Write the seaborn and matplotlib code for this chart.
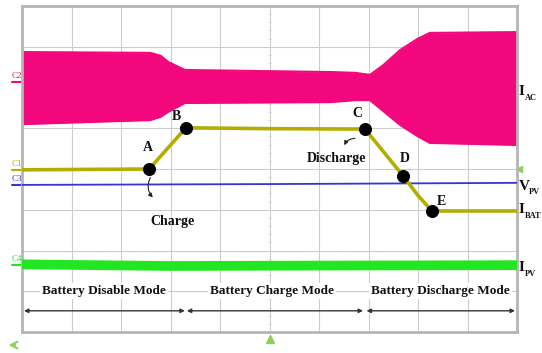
import numpy as np
import pandas as pd
import matplotlib.pyplot as plt
import matplotlib.transforms as mtrans
import seaborn as sns

# ── Scope traces, in screen divisions (x: 0-10, y: 0-8 from the bottom)
iac_x = [0, 2.59, 2.80, 2.95, 3.29, 6.22, 6.73, 7.03, 7.30, 7.64, 8.00, 8.24, 10]
iac_top = [6.87, 6.85, 6.78, 6.63, 6.43, 6.38, 6.36, 6.31, 6.55, 6.92, 7.20, 7.34, 7.36]
iac_bot = [5.10, 5.20, 5.28, 5.40, 5.62, 5.64, 5.69, 5.69, 5.42, 5.08, 4.80, 4.64, 4.59]

ibat_x = [0, 2.57, 3.31, 5.0, 6.93, 7.70, 8.00, 8.28, 10]
ibat_y = [3.98, 4.00, 5.01, 4.99, 4.98, 3.83, 3.35, 2.97, 2.97]

vpv_x = [0, 5, 10]
vpv_y = [3.61, 3.63, 3.66]

ipv_x = [0, 3, 6, 10]
ipv_y = [1.66, 1.62, 1.63, 1.64]

pts_name = ["A", "B", "C", "D", "E"]
pts_x = [2.57, 3.31, 6.93, 7.70, 8.28]
pts_y = [4.00, 5.01, 4.98, 3.83, 2.97]

modes = ["Battery Disable Mode", "Battery Charge Mode", "Battery Discharge Mode"]
mode_x = [1.65, 5.05, 8.46]
mode_span = [(0.04, 3.29), (3.33, 6.89), (6.96, 9.96)]

PINK = "#f2087c"
YEL = "#b4ad00"
BLUE = "#3535d5"
GREEN = "#22e622"

sns.set_theme(style="white")
plt.rcParams["font.family"] = ["Liberation Serif", "DejaVu Serif"]

fig = plt.figure(figsize=(5.42, 3.53), dpi=100)
ax = fig.add_axes([22 / 542, 21 / 353, 495 / 542, 326 / 353])
ax.set_xlim(0, 10)
ax.set_ylim(0, 8)

# grid
for gx in range(1, 10):
    ax.axvline(gx, color="#cccccc", lw=0.8, zorder=0)
for gy in range(1, 8):
    ax.axhline(gy, color="#cccccc", lw=0.8, zorder=0)
# center cross ticks
for t in np.arange(0.2, 8, 0.2):
    ax.plot([4.97, 5.03], [t, t], color="#d0d0d0", lw=0.5, zorder=0)
for s in ax.spines.values():
    s.set_color("#b5b5b5")
    s.set_linewidth(2)
ax.set_xticks([])
ax.set_yticks([])

# I_AC band
ax.fill_between(iac_x, iac_bot, iac_top, color=PINK, lw=0, zorder=2)
ax.plot(iac_x, iac_top, color=PINK, lw=1.5, zorder=2)
ax.plot(iac_x, iac_bot, color=PINK, lw=1.5, zorder=2)

df_ipv = pd.DataFrame({"x": ipv_x, "y": ipv_y})
sns.lineplot(data=df_ipv, x="x", y="y", color=GREEN, lw=7, ax=ax, zorder=3)
df_vpv = pd.DataFrame({"x": vpv_x, "y": vpv_y})
sns.lineplot(data=df_vpv, x="x", y="y", color=BLUE, lw=1.3, ax=ax, zorder=3)
df_bat = pd.DataFrame({"x": ibat_x, "y": ibat_y})
sns.lineplot(data=df_bat, x="x", y="y", color=YEL, lw=2.6, ax=ax, zorder=4)
df_pts = pd.DataFrame({"x": pts_x, "y": pts_y})
sns.scatterplot(data=df_pts, x="x", y="y", color="black", s=75, edgecolor="black", ax=ax, zorder=5)
ax.set_xlabel("")
ax.set_ylabel("")

lab_off = [(-0.02, 0.52), (-0.20, 0.27), (-0.16, 0.37), (0.04, 0.42), (0.20, 0.24)]
for n, x, y, (dx, dy) in zip(pts_name, pts_x, pts_y, lab_off):
    ax.text(x + dx, y + dy, n, ha="center", va="center", fontsize=10, fontweight="bold", color="#111111")

ax.text(3.05, 2.72, "Charge", ha="center", va="center", fontsize=10, fontweight="bold", color="#111111")
ax.text(6.36, 4.25, "Discharge", ha="center", va="center", fontsize=10, fontweight="bold", color="#111111")
ax.annotate("", xy=(2.68, 3.25), xytext=(2.62, 3.85),
            arrowprops=dict(arrowstyle="-|>", color="#222222", lw=0.8, mutation_scale=6,
                            connectionstyle="arc3,rad=0.4"))
ax.annotate("", xy=(6.49, 4.52), xytext=(6.78, 4.75),
            arrowprops=dict(arrowstyle="-|>", color="#222222", lw=0.8, mutation_scale=6,
                            connectionstyle="arc3,rad=0.4"))

# modes
for m, mx, (a, b) in zip(modes, mode_x, mode_span):
    ax.text(mx, 1.01, m, ha="center", va="center", fontsize=9.5, fontweight="bold", color="#111111",
            bbox=dict(facecolor="white", edgecolor="none", pad=1.5), zorder=6)
    ax.annotate("", xy=(b, 0.52), xytext=(a, 0.52),
                arrowprops=dict(arrowstyle="<|-|>", color="#333333", lw=1.0, mutation_scale=6,
                                shrinkA=0, shrinkB=0), zorder=6)

# channel tags on the left
tags = [("C2", PINK, 6.13), ("C1", YEL, 3.98), ("C3", BLUE, 3.61), ("C4", GREEN, 1.64)]
for t, c, y in tags:
    ax.text(-0.11, y + 0.05, t, ha="center", va="bottom", fontsize=6.5, color=c, clip_on=False)
    ax.plot([-0.2, -0.01], [y, y], color=c, lw=1.5, clip_on=False)

# trace names on the right
names = [("I", "AC", 5.9), ("V", "PV", 3.58), ("I", "BAT", 3.0), ("I", "PV", 1.58)]
for main, sub, y in names:
    ax.text(10.03, y, main, ha="left", va="center", fontsize=11, fontweight="bold",
            color="#111111", clip_on=False)
    dx = 4.5 if main == "I" else 7.5
    tr = mtrans.offset_copy(ax.transData, fig=fig, x=dx, y=-4.5, units="points")
    ax.text(10.03, y, sub, ha="left", va="center", fontsize=6, fontweight="bold",
            color="#111111", clip_on=False, transform=tr)

# scope markers
ax.plot([10.04], [3.99], marker="<", color="#8ccf5a", ms=5, clip_on=False)
ax.plot([5.0], [-0.18], marker="^", color="#8ccf5a", ms=6, clip_on=False)
ax.annotate("", xy=(-0.33, -0.32), xytext=(-0.08, -0.32), xycoords="data",
            arrowprops=dict(arrowstyle="->", color="#8ccf5a", lw=1.5), annotation_clip=False)

fig.savefig("out.png", dpi=100)
